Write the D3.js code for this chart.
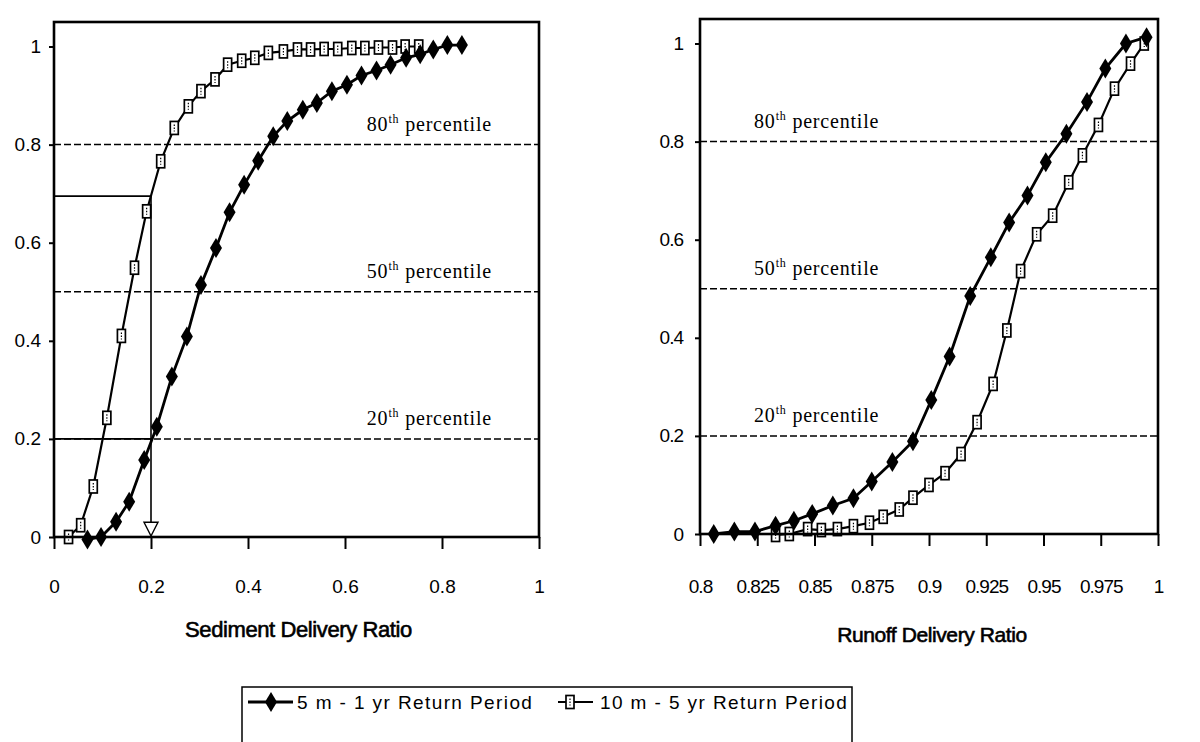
<!DOCTYPE html>
<html>
<head>
<meta charset="utf-8">
<script src="https://cdn.jsdelivr.net/npm/d3@7"></script>
<style>
  body { margin: 0; background: #fff; }
  svg { display: block; }
</style>
</head>
<body>
<div id="chart"></div>
<script>
// cumulative frequency, [delivery ratio, cdf]
const sed5m1yr = [[0.069,-0.005],[0.097,0],[0.128,0.031],[0.155,0.072],[0.186,0.157],[0.212,0.225],[0.243,0.327],
  [0.274,0.409],[0.303,0.514],[0.334,0.589],[0.362,0.662],[0.392,0.718],[0.421,0.767],[0.452,0.817],[0.481,0.848],
  [0.513,0.871],[0.542,0.885],[0.573,0.909],[0.604,0.922],[0.634,0.941],[0.665,0.951],[0.694,0.963],[0.726,0.977],
  [0.755,0.984],[0.782,0.994],[0.811,1.003],[0.841,1.003]];
const sed10m5yr = [[0.030,0],[0.055,0.024],[0.081,0.103],[0.109,0.243],[0.139,0.410],[0.166,0.549],[0.191,0.664],
  [0.220,0.766],[0.248,0.834],[0.277,0.878],[0.303,0.909],[0.332,0.933],[0.358,0.963],[0.387,0.971],[0.414,0.977],
  [0.442,0.987],[0.473,0.990],[0.502,0.994],[0.529,0.994],[0.557,0.995],[0.585,0.995],[0.614,0.997],[0.641,0.997],
  [0.669,0.998],[0.698,0.998],[0.724,1.0],[0.752,1.0]];
const run5m1yr = [[0.806,0],[0.815,0.005],[0.824,0.005],[0.833,0.017],[0.841,0.027],[0.849,0.041],[0.858,0.058],
  [0.867,0.073],[0.875,0.107],[0.884,0.147],[0.893,0.189],[0.901,0.273],[0.909,0.362],[0.918,0.485],[0.927,0.564],
  [0.935,0.635],[0.943,0.690],[0.951,0.758],[0.960,0.816],[0.969,0.881],[0.977,0.949],[0.986,1.0],[0.995,1.013]];
const run10m5yr = [[0.833,-0.002],[0.839,0],[0.847,0.010],[0.853,0.008],[0.860,0.010],[0.867,0.016],[0.874,0.023],
  [0.880,0.035],[0.887,0.050],[0.893,0.074],[0.900,0.100],[0.907,0.124],[0.914,0.163],[0.921,0.228],[0.928,0.306],
  [0.934,0.415],[0.940,0.536],[0.947,0.611],[0.954,0.649],[0.961,0.717],[0.967,0.772],[0.974,0.834],[0.981,0.908],
  [0.988,0.959],[0.994,1.0]];

const percentiles = [0.8, 0.5, 0.2];
const percentileNames = ["80", "50", "20"];

const yTicks = [0, 0.2, 0.4, 0.6, 0.8, 1];
const yTickLabels = ["0", "0.2", "0.4", "0.6", "0.8", "1"];
const sedTicks = [0, 0.2, 0.4, 0.6, 0.8, 1];
const sedTickLabels = ["0", "0.2", "0.4", "0.6", "0.8", "1"];
const runTicks = [0.8, 0.825, 0.85, 0.875, 0.9, 0.925, 0.95, 0.975, 1];
const runTickLabels = ["0.8", "0.825", "0.85", "0.875", "0.9", "0.925", "0.95", "0.975", "1"];

const seriesNames = ["5 m - 1 yr Return Period", "10 m - 5 yr Return Period"];

// guide drawn on the sediment panel: SDR 0.2 read against both curves
const guideSdr = 0.2;
const guideCdf = [0.695, 0.2];

const W = 1200, H = 742;
const sans = "'Liberation Sans', Arial, sans-serif";
const serif = "'Liberation Serif', 'Times New Roman', serif";

const svg = d3.select("#chart").append("svg")
    .attr("width", W)
    .attr("height", H)
    .attr("viewBox", `0 0 ${W} ${H}`);

let diamond = "M0,-10L6,0L0,10L-6,0Z";

let drawMarkers = (g, data, x, y, kind) => {
    let sel = g.append("g").selectAll("g").data(data).join("g")
        .attr("transform", d => `translate(${x(d[0])},${y(d[1])})`);
    if (kind === "diamond") {
        sel.append("path").attr("d", diamond).attr("fill", "#000");
    } else {
        sel.append("rect")
            .attr("x", -4).attr("y", -6.5)
            .attr("width", 8).attr("height", 13)
            .attr("fill", "#fff").attr("stroke", "#000").attr("stroke-width", 1.7);
        sel.append("line")
            .attr("x1", 0).attr("x2", 0).attr("y1", -3.5).attr("y2", 3.5)
            .attr("stroke", "#000").attr("stroke-width", 1.2).attr("stroke-dasharray", "1.5,1.5");
    }
};

let makePanel = (opt) => {
    const x = d3.scaleLinear().domain(opt.xDomain).range(opt.xRange);
    const y = d3.scaleLinear().domain([0, 1.05]).range(opt.yRange);
    const g = svg.append("g");

    // percentile lines and labels
    percentiles.forEach((p, i) => {
        g.append("line")
            .attr("x1", x(opt.xDomain[0])).attr("x2", x(opt.xDomain[1]))
            .attr("y1", y(p)).attr("y2", y(p))
            .attr("stroke", "#000").attr("stroke-width", 1.5)
            .attr("stroke-dasharray", "7,3");
        let t = g.append("text")
            .attr("x", x(opt.labelX))
            .attr("y", y(p) - 14)
            .attr("font-family", serif)
            .attr("font-size", 20)
            .attr("letter-spacing", 0.8)
            .attr("fill", "#000");
        t.append("tspan").text(percentileNames[i]);
        t.append("tspan").attr("font-size", 12).attr("dy", -8).text("th");
        t.append("tspan").attr("dy", 8).text(" percentile");
    });

    if (opt.guide) opt.guide(g, x, y);

    // series
    let line = d3.line().x(d => x(d[0])).y(d => y(d[1]));
    g.append("path").datum(opt.s1)
        .attr("d", line).attr("fill", "none").attr("stroke", "#000").attr("stroke-width", 2.8);
    g.append("path").datum(opt.s2)
        .attr("d", line).attr("fill", "none").attr("stroke", "#000").attr("stroke-width", 2.2);
    drawMarkers(g, opt.s2, x, y, "square");
    drawMarkers(g, opt.s1, x, y, "diamond");

    // frame
    g.append("rect")
        .attr("x", opt.xRange[0]).attr("y", opt.yRange[1])
        .attr("width", opt.xRange[1] - opt.xRange[0])
        .attr("height", opt.yRange[0] - opt.yRange[1])
        .attr("fill", "none").attr("stroke", "#000").attr("stroke-width", 2.6);

    // axes
    let xAxis = g.append("g")
        .attr("transform", `translate(0,${opt.yRange[0]})`)
        .call(d3.axisBottom(x).tickValues(opt.xTicks)
            .tickFormat((d, i) => opt.xTickLabels[i])
            .tickSize(12).tickPadding(opt.xPad));
    let yAxis = g.append("g")
        .attr("transform", `translate(${opt.xRange[0]},0)`)
        .call(d3.axisLeft(y).tickValues(yTicks)
            .tickFormat((d, i) => yTickLabels[i])
            .tickSize(5).tickPadding(opt.yPad));
    [xAxis, yAxis].forEach(a => {
        a.select(".domain").remove();
        a.selectAll(".tick line").attr("stroke", "#000").attr("stroke-width", 2);
        a.selectAll("text")
            .attr("font-family", sans)
            .attr("font-size", 19)
            .attr("letter-spacing", opt.tickSpacing)
            .attr("fill", "#000");
    });

    // axis title
    g.append("text")
        .attr("x", (opt.xRange[0] + opt.xRange[1]) / 2 + opt.titleShift)
        .attr("y", opt.titleY)
        .attr("text-anchor", "middle")
        .attr("font-family", sans)
        .attr("font-size", opt.titleSize)
        .attr("letter-spacing", -0.4)
        .attr("stroke", "#000").attr("stroke-width", 0.6)
        .attr("fill", "#000")
        .text(opt.title);
};

makePanel({
    xDomain: [0, 1], xRange: [54, 539], yRange: [537, 22],
    s1: sed5m1yr, s2: sed10m5yr,
    xTicks: sedTicks, xTickLabels: sedTickLabels,
    xPad: 31, yPad: 8, tickSpacing: 0,
    labelX: 0.645,
    title: "Sediment Delivery Ratio", titleY: 637, titleSize: 22, titleShift: 2,
    guide: (g, x, y) => {
        guideCdf.forEach(c => {
            g.append("line")
                .attr("x1", x(0)).attr("x2", x(guideSdr))
                .attr("y1", y(c)).attr("y2", y(c))
                .attr("stroke", "#000").attr("stroke-width", 1.6);
        });
        g.append("line")
            .attr("x1", x(guideSdr)).attr("x2", x(guideSdr))
            .attr("y1", y(guideCdf[0])).attr("y2", y(0.03))
            .attr("stroke", "#000").attr("stroke-width", 1.6);
        let ax = x(guideSdr), top = y(0.03), tip = y(0) - 1;
        g.append("path")
            .attr("d", `M${ax - 7},${top}L${ax + 7},${top}L${ax},${tip}Z`)
            .attr("fill", "#fff").attr("stroke", "#000").attr("stroke-width", 1.4);
    }
});

makePanel({
    xDomain: [0.8, 1], xRange: [700, 1158], yRange: [534, 19],
    s1: run5m1yr, s2: run10m5yr,
    xTicks: runTicks, xTickLabels: runTickLabels,
    xPad: 34, yPad: 12, tickSpacing: -1,
    labelX: 0.8236,
    title: "Runoff Delivery Ratio", titleY: 642, titleSize: 21, titleShift: 3
});

// legend
const legend = svg.append("g");
legend.append("rect")
    .attr("x", 242).attr("y", 687)
    .attr("width", 610).attr("height", 80)
    .attr("fill", "none").attr("stroke", "#000").attr("stroke-width", 1.5);

const legendItems = [
    {x0: 248, x1: 293, mx: 271, tx: 297, kind: "diamond", w: 2.8},
    {x0: 558, x1: 593, mx: 570, tx: 600, kind: "square", w: 2.2}
];
legendItems.forEach((it, i) => {
    let ly = 702;
    legend.append("line")
        .attr("x1", it.x0).attr("x2", it.x1).attr("y1", ly).attr("y2", ly)
        .attr("stroke", "#000").attr("stroke-width", it.w);
    let mx = d3.scaleLinear().domain([0, 1]).range([it.mx, it.mx + 1]);
    let my = d3.scaleLinear().domain([0, 1]).range([ly, ly + 1]);
    drawMarkers(legend, [[0, 0]], mx, my, it.kind);
    legend.append("text")
        .attr("x", it.tx).attr("y", ly + 7)
        .attr("font-family", sans)
        .attr("font-size", 19)
        .attr("letter-spacing", 1.4)
        .attr("fill", "#000")
        .text(seriesNames[i]);
});
</script>
</body>
</html>
